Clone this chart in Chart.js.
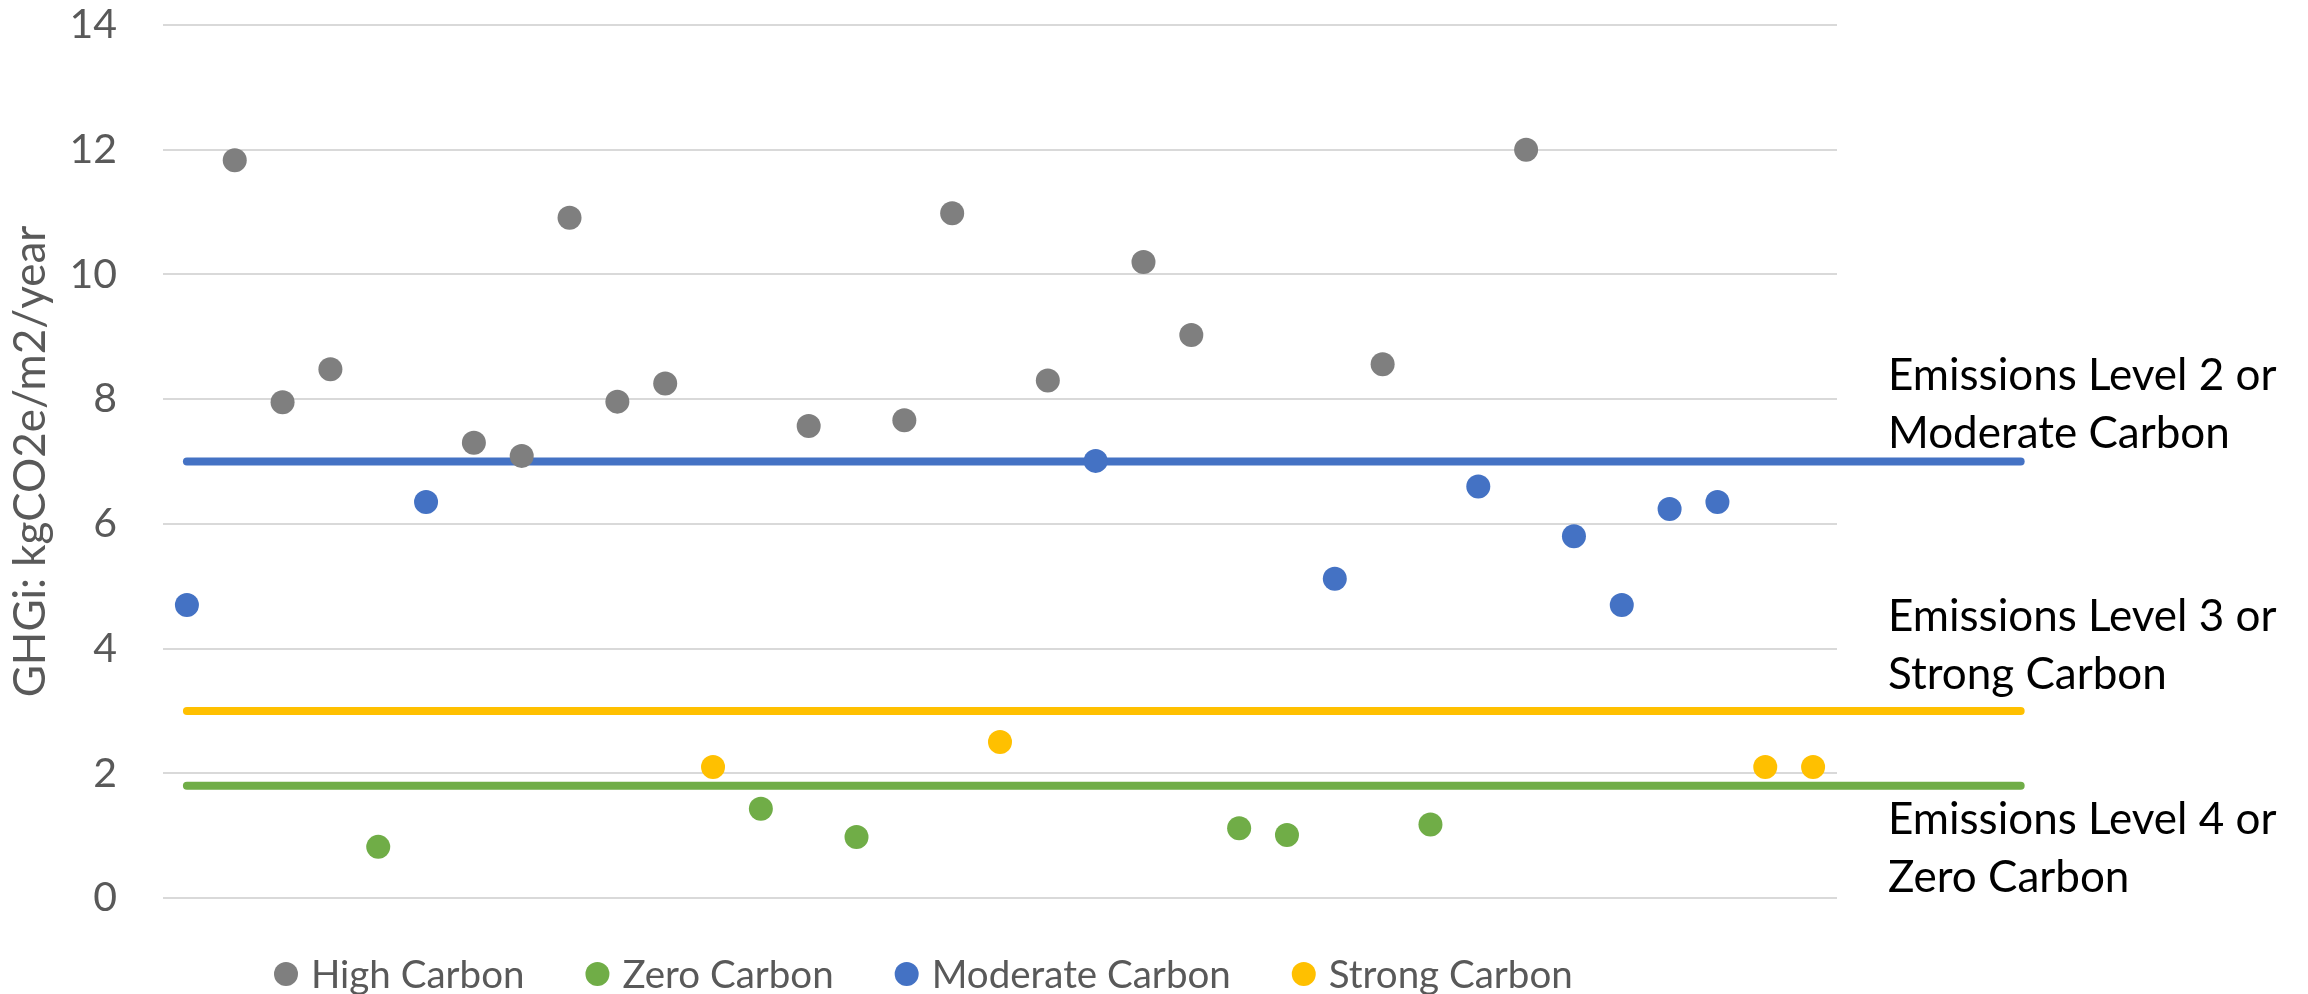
<!DOCTYPE html>
<html>
<head>
<meta charset="utf-8">
<script src="https://cdn.jsdelivr.net/npm/chart.js@4.4.1/dist/chart.umd.min.js"></script>
<style>
  html, body { margin: 0; padding: 0; background: #ffffff; overflow: hidden; }
  #wrap { position: relative; width: 2308px; height: 994px; }
</style>
</head>
<body>
<div id="wrap"><canvas id="chart"></canvas></div>
<script>
// Building number along the x axis
const buildings = [1, 2, 3, 4, 5, 6, 7, 8, 9, 10, 11, 12, 13, 14, 15, 16, 17, 18,
                   19, 20, 21, 22, 23, 24, 25, 26, 27, 28, 29, 30, 31, 32, 33, 34, 35];

// GHG intensity of each building, kgCO2e/m2/year
const ghgi = [4.70, 11.83, 7.95, 8.48, 0.82, 6.35, 7.30, 7.09, 10.91, 7.96, 8.25, 2.10,
              1.43, 7.57, 0.98, 7.66, 10.98, 2.50, 8.30, 7.01, 10.20, 9.03, 1.12, 1.01,
              5.12, 8.56, 1.18, 6.60, 12.00, 5.80, 4.70, 6.24, 6.35, 2.10, 2.10];

// Carbon band of each building: H = high, Z = zero, M = moderate, S = strong
const band = ['M', 'H', 'H', 'H', 'Z', 'M', 'H', 'H', 'H', 'H', 'H', 'S',
              'Z', 'H', 'Z', 'H', 'H', 'S', 'H', 'M', 'H', 'H', 'Z', 'Z',
              'M', 'H', 'Z', 'M', 'H', 'M', 'M', 'M', 'M', 'S', 'S'];

// Series shown in the key
const bandCodes   = ['H', 'Z', 'M', 'S'];
const bandNames   = ['High Carbon', 'Zero Carbon', 'Moderate Carbon', 'Strong Carbon'];
const bandColours = ['#7F7F7F', '#70AD47', '#4472C4', '#FFC000'];

// Emissions level thresholds and their notes
const levelValues  = [7.0, 3.0, 1.8];
const levelColours = ['#4472C4', '#FFC000', '#70AD47'];
const levelSpan    = [1, 39.34];
const levelNotes   = [
  ['Emissions Level 2 or', 'Moderate Carbon'],
  ['Emissions Level 3 or', 'Strong Carbon'],
  ['Emissions Level 4 or', 'Zero Carbon']
];

// Value axis
const yTickValues = [0, 2, 4, 6, 8, 10, 12, 14];
const yTitle = 'GHGi: kgCO2e/m2/year';

const FONT = 'Lato, "Open Sans", sans-serif';
const GREY_TEXT = '#595959';

// Scatter series, one per band
const bandSets = bandCodes.map((code, i) => ({
  type: 'scatter',
  label: bandNames[i],
  data: buildings
    .map((b, k) => ({ x: b, y: ghgi[k], code: band[k] }))
    .filter(p => p.code === code),
  backgroundColor: bandColours[i],
  borderColor: bandColours[i],
  pointRadius: 12,
  pointHoverRadius: 12,
  pointBorderWidth: 0,
  showInKey: true,
  order: 0
}));

// Threshold lines, drawn under the markers
const levelSets = levelValues.map((v, i) => ({
  type: 'line',
  label: levelNotes[i].join(' '),
  data: levelSpan.map(x => ({ x, y: v })),
  borderColor: levelColours[i],
  backgroundColor: levelColours[i],
  borderWidth: 8,
  borderCapStyle: 'round',
  pointRadius: 0,
  fill: false,
  clip: false,
  showInKey: false,
  order: 10
}));

// Notes to the right of the plot, beside each threshold line
const noteOffsets = [-71.5, -80, 48];
const noteLineGap = 58;

const sideNotes = {
  id: 'sideNotes',
  afterDraw(chart) {
    const { ctx, chartArea, scales } = chart;
    ctx.save();
    ctx.font = '44px ' + FONT;
    ctx.fillStyle = '#000000';
    ctx.textAlign = 'left';
    ctx.textBaseline = 'alphabetic';
    const x0 = chartArea.right + 51;
    levelNotes.forEach((lines, i) => {
      const base = scales.y.getPixelForValue(levelValues[i]) + noteOffsets[i];
      lines.forEach((t, k) => ctx.fillText(t, x0, base + k * noteLineGap));
    });
    ctx.restore();
  }
};

// Key row under the plot
const keyRow = {
  id: 'keyRow',
  afterDraw(chart) {
    const { ctx, chartArea } = chart;
    ctx.save();
    ctx.font = '38.5px ' + FONT;
    ctx.textAlign = 'left';
    ctx.textBaseline = 'middle';
    const yMid = chartArea.bottom + 76;
    let x = chartArea.left + 111;
    chart.data.datasets.filter(d => d.showInKey).forEach(d => {
      ctx.fillStyle = d.backgroundColor;
      ctx.beginPath();
      ctx.arc(x + 12, yMid, 12, 0, Math.PI * 2);
      ctx.fill();
      x += 24 + 13;
      ctx.fillStyle = GREY_TEXT;
      ctx.fillText(d.label, x, yMid + 2);
      x += ctx.measureText(d.label).width + 61;
    });
    ctx.restore();
  }
};

new Chart(document.getElementById('chart'), {
  data: { datasets: [...bandSets, ...levelSets] },
  options: {
    responsive: true,
    maintainAspectRatio: false,
    devicePixelRatio: 1,
    animation: false,
    events: [],
    layout: { padding: { left: 0, right: 471, top: 25, bottom: 96 } },
    plugins: {
      legend: { display: false },
      tooltip: { enabled: false },
      title: { display: false }
    },
    scales: {
      x: {
        type: 'linear',
        min: 0.5,
        max: 35.5,
        display: false
      },
      y: {
        type: 'linear',
        position: 'left',
        min: 0,
        max: 14,
        afterBuildTicks: s => { s.ticks = yTickValues.map(v => ({ value: v })); },
        afterFit: s => {
          s.width = 163;
          // the plot edges sit on the layout padding, not on the label gap
          s.paddingTop = 0;
          s.paddingBottom = 0;
        },
        border: { display: false },
        grid: { color: '#D9D9D9', lineWidth: 2, drawTicks: false },
        ticks: {
          color: GREY_TEXT,
          font: { family: FONT, size: 41 },
          padding: 46
        },
        title: {
          display: true,
          text: yTitle,
          color: GREY_TEXT,
          font: { family: FONT, size: 44 },
          padding: { top: 4, bottom: 0 }
        }
      }
    }
  },
  plugins: [sideNotes, keyRow]
});
</script>
</body>
</html>
